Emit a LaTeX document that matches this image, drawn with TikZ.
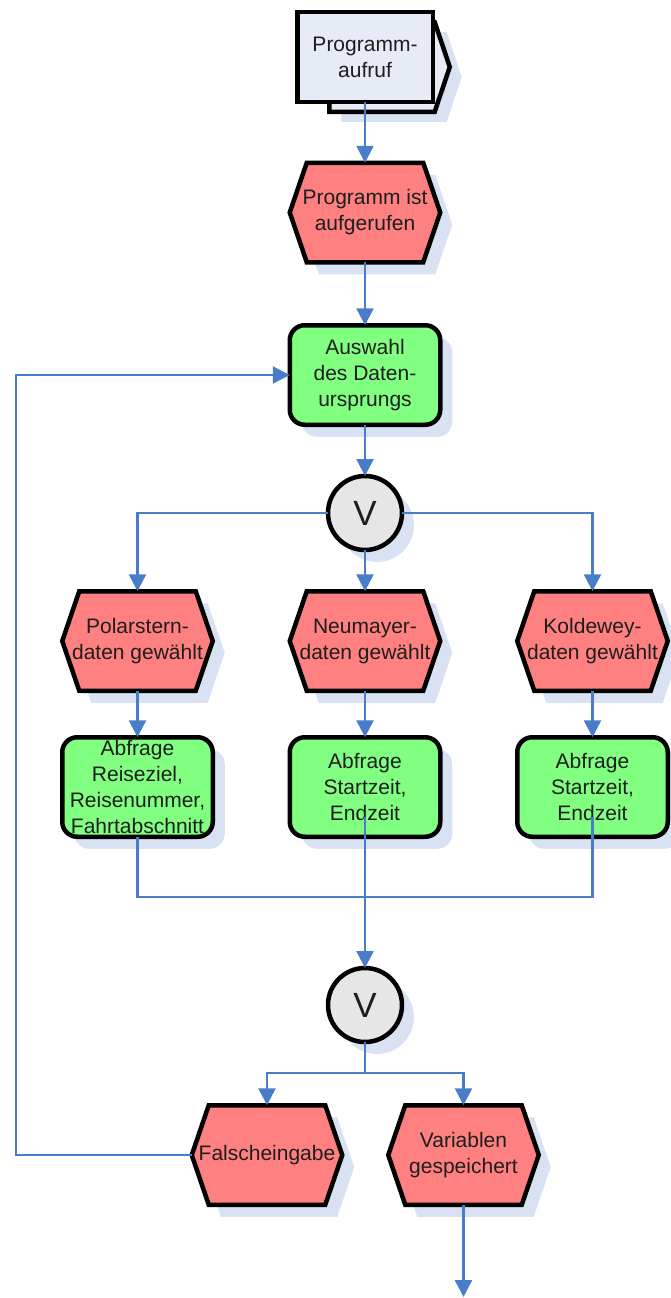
\documentclass[tikz,border=0pt]{standalone}
\usepackage{fontspec}
\setmainfont{Liberation Sans}
\usetikzlibrary{arrows.meta,shadows,backgrounds,calc}
\definecolor{evtc}{HTML}{FF8080}
\definecolor{fnc}{HTML}{80FF80}
\definecolor{xorc}{HTML}{E6E6E6}
\definecolor{lavc}{HTML}{E6EBF6}
\definecolor{shc}{HTML}{D9E2F3}
\definecolor{conc}{HTML}{4A7DC9}
\definecolor{txtc}{HTML}{1E1E1E}
\newcommand\evtshape[1]{%
  \fill[shc,transform canvas={shift={(12pt,-12pt)}}]
    ([xshift=17pt]#1.north west) -- ([xshift=-17pt]#1.north east) -- (#1.east)
    -- ([xshift=-17pt]#1.south east) -- ([xshift=17pt]#1.south west) -- (#1.west) -- cycle;
  \filldraw[outl,fill=evtc]
    ([xshift=17pt]#1.north west) -- ([xshift=-17pt]#1.north east) -- (#1.east)
    -- ([xshift=-17pt]#1.south east) -- ([xshift=17pt]#1.south west) -- (#1.west) -- cycle;}
\begin{document}
\begin{tikzpicture}[x=1pt,y=-1pt,
  every node/.style={text=txtc,font=\fontsize{21}{26}\selectfont,align=center,inner sep=0pt,outer sep=0pt},
  outl/.style={draw=black,line width=4.5pt},
  shad/.style={drop shadow={shadow xshift=12pt,shadow yshift=-12pt,fill=shc,draw=none,opacity=1}},
  evt/.style={minimum width=150.5pt,minimum height=99.5pt},
  fnbox/.style={outl,fill=fnc,rounded corners=15pt,minimum width=150.5pt,minimum height=99.5pt,shad},
  xorn/.style={circle,outl,fill=xorc,minimum size=74pt,font=\fontsize{35}{40}\selectfont,shad},
  pbox/.style={rectangle,outl,fill=lavc,minimum width=135.5pt,minimum height=89.5pt},
  conn/.style={draw=conc,line width=2.5pt},
  arr/.style={-{Triangle[length=17pt,width=17pt]}}]
\useasboundingbox (0,0) rectangle (671,1298);

\node[pbox] (P) at (365,57) {Programm-\\aufruf};
\node[evt] (E1) at (365,212.5) {Programm ist\\aufgerufen};
\node[fnbox] (F1) at (365,375) {Auswahl\\des Daten-\\ursprungs};
\node[xorn] (X1) at (365,513) {V};
\node[evt] (E2) at (137.5,641) {Polarstern-\\daten gewählt};
\node[evt] (E3) at (365,641) {Neumayer-\\daten gewählt};
\node[evt] (E4) at (592.5,641) {Koldewey-\\daten gewählt};
\node[fnbox] (F2) at (137.5,787) {Abfrage\\Reiseziel,\\Reisenummer,\\Fahrtabschnitt};
\node[fnbox] (F3) at (365,787) {Abfrage\\Startzeit,\\Endzeit};
\node[fnbox] (F4) at (592.5,787) {Abfrage\\Startzeit,\\Endzeit};
\node[xorn] (X2) at (365,1005) {V};
\node[evt] (E5) at (267,1155) {Falscheingabe};
\node[evt] (E6) at (463.5,1155) {Variablen\\gespeichert};

\begin{pgfonlayer}{background}
  \fill[shc,transform canvas={shift={(12pt,-10pt)}}]
    ([xshift=32pt,yshift=-10pt]P.north west) -- ([xshift=2pt,yshift=-10pt]P.north east)
    -- ([xshift=17pt,yshift=-10pt]P.east) -- ([xshift=2pt,yshift=-10pt]P.south east)
    -- ([xshift=32pt,yshift=-10pt]P.south west) -- cycle;
  \filldraw[outl,fill=lavc]
    ([xshift=32pt,yshift=-10pt]P.north west) -- ([xshift=2pt,yshift=-10pt]P.north east)
    -- ([xshift=17pt,yshift=-10pt]P.east) -- ([xshift=2pt,yshift=-10pt]P.south east)
    -- ([xshift=32pt,yshift=-10pt]P.south west) -- cycle;
  \foreach \n in {E1,E2,E3,E4,E5,E6}{\evtshape{\n}}
\end{pgfonlayer}

\coordinate (J) at (365,897);
\coordinate (B) at (365,1073);
\coordinate (L) at (16,0);
\coordinate (out) at (463.5,1297);

\draw[conn,arr] (P.south) -- (E1.north);
\draw[conn,arr] (E1.south) -- (F1.north);
\draw[conn,arr] (F1.south) -- (X1.north);
\draw[conn,arr] (X1.west) -| (E2.north);
\draw[conn,arr] (X1.east) -| (E4.north);
\draw[conn,arr] (X1.south) -- (E3.north);
\draw[conn,arr] (E2.south) -- (F2.north);
\draw[conn,arr] (E3.south) -- (F3.north);
\draw[conn,arr] (E4.south) -- (F4.north);
\draw[conn] (F2.south) |- (J) -| ([yshift=20pt]F4.south);
\draw[conn,arr] ([yshift=20pt]F3.south) -- (X2.north);
\draw[conn] (X2.south) -- (B);
\draw[conn,arr] (B) -| (E5.north);
\draw[conn,arr] (B) -| (E6.north);
\draw[conn,arr] (E6.south) -- (out);
\draw[conn,arr] (E5.west) -- (E5.west -| L) -- (L |- F1.west) -- (F1.west);
\end{tikzpicture}
\end{document}
